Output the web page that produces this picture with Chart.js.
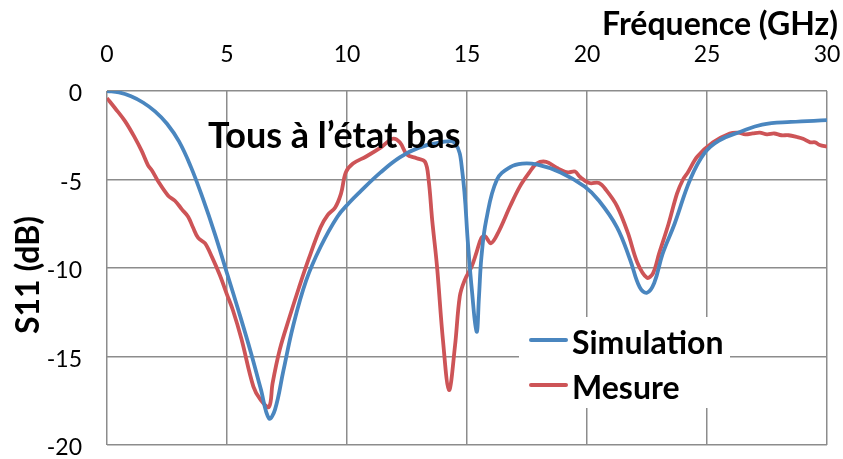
<!DOCTYPE html>
<html lang="fr">
<head>
    <meta charset="UTF-8">
    <title>S11 - Tous à l'état bas</title>
    <script src="https://cdn.jsdelivr.net/npm/chart.js"></script>
    <style>
        body { margin: 0; background: #fff; }
    </style>
</head>
<body>
    <canvas id="s11Chart" width="843" height="459"></canvas>

    <script>
        // Simulation (GHz / dB)
        const freqSim = [0, 0.5, 1.0, 1.5, 2.0, 2.5, 3.0, 3.5, 4.0, 4.5, 5.0, 5.5, 6.0, 6.4, 6.75, 7.0, 7.35, 7.75, 8.3, 8.9, 9.6, 10.1, 10.5, 11.4, 12.2, 13.0, 13.9, 14.5,
            14.8, 15.05, 15.2, 15.4, 15.5, 15.6, 15.8, 16.25, 16.8, 17.3, 17.9, 18.9, 19.9, 20.5, 21.25, 21.8, 22.2, 22.5, 22.8, 23.15, 23.65, 24.3,
            24.9, 25.5, 26.4, 27.3, 28.5, 30];
        const s11Sim = [0, -0.08, -0.3, -0.65, -1.15, -1.85, -2.85, -4.3, -6.1, -8.1, -10.3, -12.5, -14.8, -16.8, -18.5, -18.0, -15.8, -13.3, -10.7, -8.8, -7.1, -6.3, -5.75, -4.6, -3.75, -3.2, -2.9, -2.95,
            -4.5, -8.8, -11.2, -13.6, -11.6, -9.4, -7.3, -5.0, -4.3, -4.1, -4.15, -4.6, -5.4, -6.2, -7.7, -9.55, -11.1, -11.4, -10.85, -9.2, -7.5, -5.0,
            -3.5, -2.8, -2.3, -1.9, -1.75, -1.65];

        // Mesure (GHz / dB)
        const freqMes = [0, 0.33, 0.75, 1.17, 1.45, 1.71, 1.88, 2.13, 2.54, 2.83, 3.13, 3.38, 3.58, 3.8, 4.08, 4.38, 4.7, 5.0, 5.25, 5.6, 6.1, 6.4, 6.75, 6.9,
            7.2, 7.6, 8.0, 8.4, 8.9, 9.2, 9.5, 9.75, 9.95, 10.25, 10.8, 11.4, 11.9, 12.2, 12.5, 12.9, 13.25, 13.4, 13.55, 13.75, 14.0, 14.25, 14.5,
            14.7, 14.9, 15.2, 15.4, 15.6, 15.75, 16.0, 16.3, 16.8, 17.2, 17.6, 17.9, 18.3, 18.75, 19.2, 19.5, 19.7, 20.1, 20.5, 20.8, 21.25, 21.7,
            22.1, 22.5, 22.75, 23.0, 23.4, 23.75, 24.0, 24.2, 24.6, 25.25, 25.95, 26.3, 26.6, 26.9, 27.2, 27.5, 27.8, 28.1, 28.4, 28.75, 29.0,
            29.3, 29.5, 29.7, 30];
        const s11Mes = [-0.4, -0.96, -1.7, -2.66, -3.4, -4.2, -4.5, -5.1, -5.9, -6.2, -6.7, -7.1, -7.7, -8.3, -8.6, -9.4, -10.4, -11.5, -12.4, -14.0, -16.7, -17.45, -17.85, -16.5,
            -14.6, -12.8, -11.1, -9.5, -7.7, -7.0, -6.6, -5.8, -4.6, -4.1, -3.7, -3.2, -2.7, -2.9, -3.6, -3.8, -4.0, -5.0, -7.3, -9.9, -14.1, -16.9, -14.4,
            -11.6, -10.7, -9.9, -9.1, -8.3, -8.2, -8.6, -8.0, -6.5, -5.4, -4.6, -4.1, -4.0, -4.35, -4.6, -4.55, -4.85, -5.2, -5.2, -5.6, -6.5, -8.0,
            -9.7, -10.55, -10.3, -9.2, -7.5, -5.8, -5.0, -4.6, -3.7, -2.9, -2.4, -2.35, -2.45, -2.4, -2.35, -2.45, -2.4, -2.5, -2.5, -2.6, -2.7,
            -2.9, -2.9, -3.05, -3.15];

        const xTicks = [0, 5, 10, 15, 20, 25, 30];
        const yTicks = [0, -5, -10, -15, -20];

        const toPoints = (xs, ys) => xs.map((x, i) => ({ x: x, y: ys[i] }));

        const FONT = 'Lato, "Noto Sans", sans-serif';
        const GRID = '#8c8c8c';

        // keep the plot box fixed: no extra room for overhanging tick labels
        function noPadding(scale) {
            scale.paddingLeft = 0;
            scale.paddingRight = 0;
            scale.paddingTop = 0;
            scale.paddingBottom = 0;
        }

        // titles, annotation and the in-plot legend
        const overlay = {
            id: 'overlay',
            afterDatasetsDraw(chart) {
                const ctx = chart.ctx;
                ctx.save();
                ctx.fillStyle = '#000';
                ctx.textBaseline = 'alphabetic';

                ctx.font = 'bold 32px ' + FONT;
                ctx.textAlign = 'right';
                ctx.fillText('Fréquence (GHz)', 838, 35);

                ctx.font = 'bold 36px ' + FONT;
                ctx.textAlign = 'left';
                ctx.fillText('Tous à l’état bas', 208, 148);

                ctx.save();
                ctx.translate(29, 275);
                ctx.rotate(-Math.PI / 2);
                ctx.textAlign = 'center';
                ctx.textBaseline = 'middle';
                ctx.font = 'bold 32px ' + FONT;
                ctx.fillText('S11 (dB)', 0, 0);
                ctx.restore();

                // legend box
                ctx.fillStyle = '#fff';
                ctx.fillRect(519, 317, 211, 91);
                const rows = [340, 385];
                chart.data.datasets.forEach((ds, i) => {
                    ctx.strokeStyle = ds.borderColor;
                    ctx.lineWidth = 4;
                    ctx.lineCap = 'round';
                    ctx.beginPath();
                    ctx.moveTo(531, rows[i]);
                    ctx.lineTo(566, rows[i]);
                    ctx.stroke();
                    ctx.fillStyle = '#000';
                    ctx.font = 'bold 32px ' + FONT;
                    ctx.textAlign = 'left';
                    ctx.fillText(ds.label, 572, rows[i] + 14);
                });
                ctx.restore();
            }
        };

        new Chart(document.getElementById('s11Chart').getContext('2d'), {
            type: 'line',
            data: {
                datasets: [
                    {
                        label: 'Simulation',
                        data: toPoints(freqSim, s11Sim),
                        borderColor: '#4A86BF',
                        borderWidth: 3.8,
                        pointRadius: 0,
                        tension: 0.4
                    },
                    {
                        label: 'Mesure',
                        data: toPoints(freqMes, s11Mes),
                        borderColor: '#CD5457',
                        borderWidth: 3.8,
                        pointRadius: 0,
                        tension: 0.35
                    }
                ]
            },
            options: {
                responsive: false,
                animation: false,
                devicePixelRatio: 1,
                layout: { padding: { left: 0, right: 16, top: 0, bottom: 14 } },
                plugins: {
                    legend: { display: false },
                    tooltip: { enabled: false }
                },
                scales: {
                    x: {
                        type: 'linear',
                        position: 'top',
                        min: 0,
                        max: 30,
                        afterFit(scale) { scale.height = 91; noPadding(scale); },
                        afterBuildTicks(scale) { scale.ticks = xTicks.map(v => ({ value: v })); },
                        grid: { color: GRID, lineWidth: 1.5, drawTicks: false },
                        border: { display: false },
                        ticks: {
                            color: '#000',
                            padding: 23,
                            maxRotation: 0,
                            font: { family: FONT, size: 23 }
                        }
                    },
                    y: {
                        type: 'linear',
                        min: -20,
                        max: 0,
                        afterFit(scale) { scale.width = 107; noPadding(scale); },
                        afterBuildTicks(scale) { scale.ticks = yTicks.map(v => ({ value: v })); },
                        grid: { color: GRID, lineWidth: 1.5, drawTicks: false },
                        border: { display: false },
                        ticks: {
                            color: '#000',
                            padding: 25,
                            labelOffset: 3,
                            font: { family: FONT, size: 23 }
                        }
                    }
                }
            },
            plugins: [overlay]
        });
    </script>
</body>
</html>
